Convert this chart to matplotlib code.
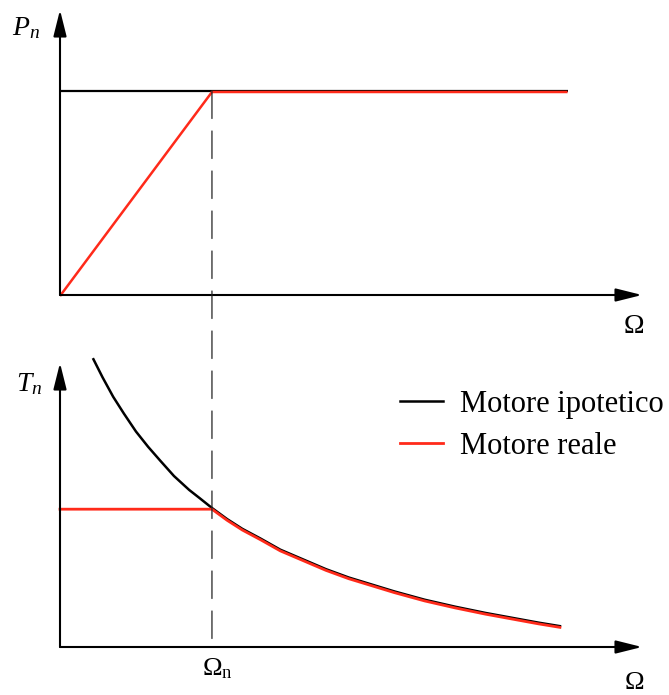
import matplotlib.pyplot as plt
from matplotlib.patches import ConnectionPatch
from matplotlib.transforms import offset_copy

plt.rcParams["font.family"] = ["Liberation Serif", "DejaVu Serif"]
plt.rcParams["mathtext.fontset"] = "custom"
plt.rcParams["mathtext.rm"] = "Liberation Serif"
plt.rcParams["mathtext.it"] = "Liberation Serif:italic"

# speed normalised to the nominal speed, power/torque normalised to nominal values
omega_n = 1.0
omega_end = 3.34
power_nominal = 1.0

# torque of the ideal motor vs speed
torque_speed = [0.22, 0.28, 0.35, 0.42, 0.50, 0.58, 0.66, 0.75, 0.85, 0.92, 1.0,
                1.1, 1.2, 1.32, 1.45, 1.6, 1.75, 1.9, 2.05, 2.2, 2.4, 2.6, 2.8,
                3.0, 3.15, 3.29]
torque_ideal = [2.07, 1.94, 1.80, 1.68, 1.55, 1.44, 1.34, 1.23, 1.13, 1.07, 1.0,
                0.92, 0.85, 0.78, 0.70, 0.63, 0.56, 0.50, 0.45, 0.40, 0.34, 0.29,
                0.245, 0.205, 0.175, 0.15]

# real motor: constant torque up to omega_n, then constant power
real_speed = [0.0] + [w for w in torque_speed if w >= omega_n]
real_torque = [1.0] + [t for w, t in zip(torque_speed, torque_ideal) if w >= omega_n]
real_power_speed = [0.0, omega_n, omega_end]
real_power = [0.0, power_nominal, power_nominal]

W, H = 669, 695
fig = plt.figure(figsize=(W / 100, H / 100), dpi=100)


def px_axes(x0, y0, x1, y1):
    return fig.add_axes([x0 / W, 1 - y1 / H, (x1 - x0) / W, (y1 - y0) / H])


ax_p = px_axes(60, 10, 642, 295)
ax_t = px_axes(60, 363, 642, 647)
ax_p.set_xlim(0, 3.83)
ax_p.set_ylim(0, 1.397)
ax_t.set_xlim(0, 3.83)
ax_t.set_ylim(0, 2.043)

arrow = dict(arrowstyle="-|>,head_length=0.8,head_width=0.2", mutation_scale=20,
             lw=1.5, color="black", shrinkA=0, shrinkB=0)
for ax in (ax_p, ax_t):
    ax.set_axis_off()
    x1, y1 = ax.get_xlim()[1], ax.get_ylim()[1]
    ax.annotate("", xy=(x1, 0), xytext=(0, 0), arrowprops=arrow, annotation_clip=False)
    ax.annotate("", xy=(0, y1), xytext=(0, 0), arrowprops=arrow, annotation_clip=False)

red = "#ff2a1a"

# power plot (red drawn a touch lower so the black edge stays visible)
ax_p.plot([0, omega_end], [power_nominal, power_nominal], color="black", lw=1.6,
          solid_capstyle="butt", clip_on=False)
ax_p.plot(real_power_speed, real_power, color=red, lw=1.8, solid_capstyle="butt",
          clip_on=False, transform=offset_copy(ax_p.transData, fig, y=-1, units="dots"))

# torque plot
ideal_line, = ax_t.plot(torque_speed, torque_ideal, color="black", lw=1.8,
                        label="Motore ipotetico", clip_on=False)
real_line, = ax_t.plot(real_speed, real_torque, color=red, lw=2.0,
                       label="Motore reale", clip_on=False,
                       transform=offset_copy(ax_t.transData, fig, y=-1.2, units="dots"))

# dashed marker at nominal speed across both plots
dash = ConnectionPatch(xyA=(omega_n, power_nominal), coordsA=ax_p.transData,
                       xyB=(omega_n, 0), coordsB=ax_t.transData,
                       color="#222222", lw=0.9, linestyle=(0, (22, 10)))
fig.add_artist(dash)

ax_t.legend(handles=[ideal_line, real_line], loc="upper left",
            bbox_to_anchor=(400 / W, 1 - 390 / H), bbox_transform=fig.transFigure,
            frameon=False, fontsize=22, borderpad=0, borderaxespad=0,
            handlelength=1.4, handletextpad=0.55, labelspacing=0.42)

fig.text(12 / W, 1 - 35 / H, r"$P_n$", fontsize=20, va="baseline")
fig.text(16 / W, 1 - 391 / H, r"$T_n$", fontsize=20, va="baseline")
fig.text(624 / W, 1 - 333 / H, "Ω", fontsize=20, va="baseline")
fig.text(625 / W, 1 - 689 / H, "Ω", fontsize=19, va="baseline")
fig.text(202 / W, 1 - 675 / H, r"$\Omega_\mathrm{n}$", fontsize=19, va="baseline")

fig.savefig("out.png", dpi=100)
